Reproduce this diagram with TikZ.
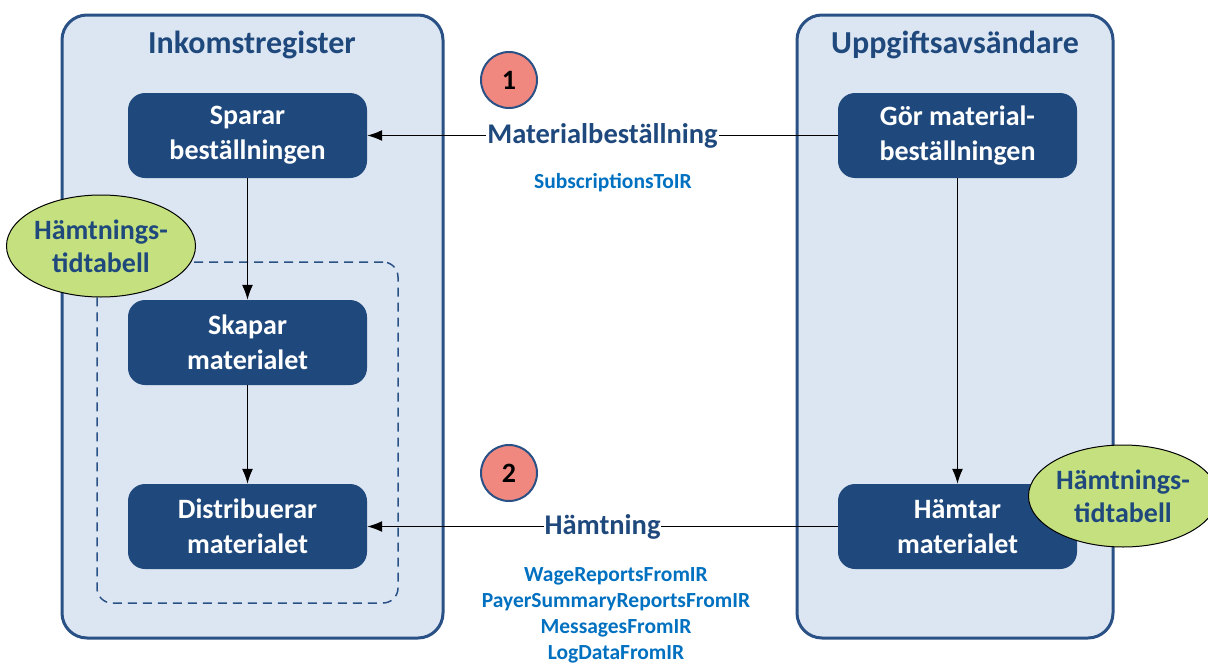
\documentclass[tikz,border=0pt]{standalone}
\usepackage{fontspec}
\setmainfont{Carlito}
\usetikzlibrary{arrows.meta,shapes.geometric}
\definecolor{irblue}{HTML}{1F497D}
\definecolor{panelfill}{HTML}{DCE6F2}
\definecolor{panelline}{HTML}{2A5186}
\definecolor{schedgreen}{HTML}{C5E17F}
\definecolor{stepred}{HTML}{F1887F}
\definecolor{svcblue}{HTML}{0070C0}
\newcommand{\bigbf}{\fontsize{28}{35}\selectfont\bfseries}

\begin{document}
\begin{tikzpicture}[x=1pt,y=-1pt,
  panel/.style={draw=panelline,line width=3pt,fill=panelfill,rounded corners=25pt},
  title/.style={text=irblue,font=\fontsize{32}{38}\selectfont\bfseries},
  task/.style={fill=irblue,text=white,rounded corners=17pt,minimum width=239pt,
    minimum height=85pt,align=center,font=\bigbf},
  sched/.style={ellipse,draw,line width=1pt,fill=schedgreen,text=irblue,
    minimum width=178pt,minimum height=102pt,inner sep=0pt,align=center,
    font=\fontsize{28}{33}\selectfont\bfseries},
  stepno/.style={circle,draw=panelline,line width=2pt,fill=stepred,
    minimum size=56pt,font=\bigbf},
  flow/.style={line width=1.3pt,-{Latex[length=15pt,width=11pt]}},
  msg/.style={fill=white,text=irblue,inner sep=1pt,font=\fontsize{28.5}{35}\selectfont\bfseries},
  svc/.style={text=svcblue,align=center,font=\fontsize{21.5}{26}\selectfont\bfseries}]
  \useasboundingbox (0,0) rectangle (1208,664);
  % the two parties
  \node[panel,minimum width=381pt,minimum height=623pt] (ir) at (252.5,326.5) {};
  \node[panel,minimum width=316pt,minimum height=623pt] (us) at (955,326.5) {};
  \node[title] (irtitle) at (252,45) {Inkomstregister};
  \node[title] (ustitle) at (955,45) {Uppgiftsavsändare};
  \node[draw=panelline,line width=1.5pt,dash pattern=on 9pt off 6pt,rounded corners=15pt,
    minimum width=301pt,minimum height=341pt] (auto) at (247.5,432.5) {};
  % tasks
  \node[task] (spara) at (247.5,135.5) {Sparar\\beställningen};
  \node[task] (skapa) at (247.5,342.5) {Skapar\\materialet};
  \node[task] (distr) at (247.5,526.5) {Distribuerar\\materialet};
  \node[task] (order) at (957.5,135.5) {Gör material-\\beställningen};
  \node[task] (fetch) at (957.5,526.5) {Hämtar\\materialet};
  \path[flow]
    (spara) edge (skapa)
    (skapa) edge (distr)
    (order) edge (fetch)
    (order) edge node[msg] {Materialbeställning} (spara)
    (fetch) edge node[msg] {Hämtning} (distr);
  \node[svc] (subs) at (613,183) {SubscriptionsToIR};
  \node[svc,anchor=north] (fromir) at (616,564)
    {WageReportsFromIR\\PayerSummaryReportsFromIR\\MessagesFromIR\\LogDataFromIR};
  \node[stepno] (one) at (509,80) {1};
  \node[stepno] (two) at (509,473) {2};
  % schedules
  \node[sched] (schedir) at (101,246) {Hämtnings-\\tidtabell};
  \node[sched] (schedus) at (1123,496) {Hämtnings-\\tidtabell};
\end{tikzpicture}
\end{document}
